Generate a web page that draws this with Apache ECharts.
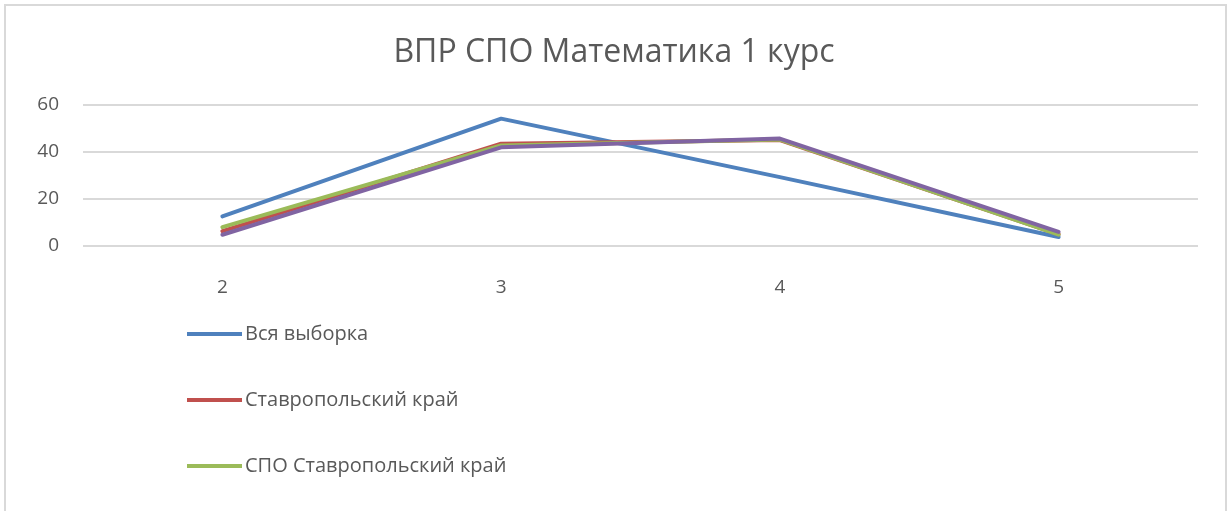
<!DOCTYPE html>
<html>
<head>
<meta charset="utf-8">
<script src="https://cdn.jsdelivr.net/npm/echarts@6/dist/echarts.min.js"></script>
<style>
  html, body { margin: 0; padding: 0; background: #fff; }
  #chart { width: 1228px; height: 511px; }
</style>
</head>
<body>
<div id="chart"></div>
<script>
// данные
const categories = ["2", "3", "4", "5"];
const yTicks = [0, 20, 40, 60];
const vsyaVyborka = [12.6, 54.2, 29.3, 3.8];
const stavKray = [6.3, 43.5, 45.1, 5.0];
const spoStavKray = [8.0, 42.8, 45.3, 4.8];
const fourthSeries = [4.8, 42.0, 45.7, 6.0]; // подпись обрезана на исходнике

const seriesNames = ["Вся выборка", "Ставропольский край", "СПО Ставропольский край", "СПО вся выборка"];
const colors = ["#4F81BD", "#C0504D", "#9BBB59", "#8064A2"];
const font = "'Open Sans', sans-serif";

const chart = echarts.init(document.getElementById("chart"));

const makeLine = (name, data, color) => ({
  name: name,
  type: "line",
  data: data,
  symbol: "none",
  lineStyle: { color: color, width: 4, join: "round", cap: "round" },
  itemStyle: { color: color },
  animation: false,
});

const option = {
  animation: false,
  title: {
    text: "ВПР СПО Математика 1 курс",
    left: "center",
    top: 32,
    textStyle: {
      fontFamily: font,
      fontSize: 32,
      fontWeight: "normal",
      color: "#595959",
    },
  },
  legend: {
    data: seriesNames.slice(0, 3),
    orient: "vertical",
    left: 182,
    top: 319,
    itemWidth: 55,
    itemHeight: 4,
    itemGap: 46,
    icon: "rect",
    textStyle: {
      fontFamily: font,
      fontSize: 20,
      color: "#595959",
      padding: [0, 0, 0, -2],
    },
  },
  grid: {
    left: 83,
    right: 30,
    top: 105,
    bottom: 265,
  },
  xAxis: {
    type: "category",
    data: categories,
    boundaryGap: true,
    axisLine: { show: false },
    axisTick: { show: false },
    axisLabel: {
      margin: 32,
      fontFamily: font,
      fontSize: 19,
      color: "#595959",
    },
  },
  yAxis: {
    type: "value",
    min: yTicks[0],
    max: yTicks[yTicks.length - 1],
    interval: 20,
    axisLine: { show: false },
    axisTick: { show: false },
    axisLabel: {
      margin: 24,
      fontFamily: font,
      fontSize: 19,
      color: "#595959",
    },
    splitLine: { lineStyle: { color: "#d9d9d9", width: 2 } },
  },
  graphic: [
    {
      type: "rect",
      shape: { x: 5, y: 5, width: 1221, height: 540 },
      style: { fill: "none", stroke: "#d9d9d9", lineWidth: 2 },
      silent: true,
    },
  ],
  series: [
    makeLine(seriesNames[0], vsyaVyborka, colors[0]),
    makeLine(seriesNames[1], stavKray, colors[1]),
    makeLine(seriesNames[2], spoStavKray, colors[2]),
    makeLine(seriesNames[3], fourthSeries, colors[3]),
  ],
};

chart.setOption(option);
</script>
</body>
</html>
